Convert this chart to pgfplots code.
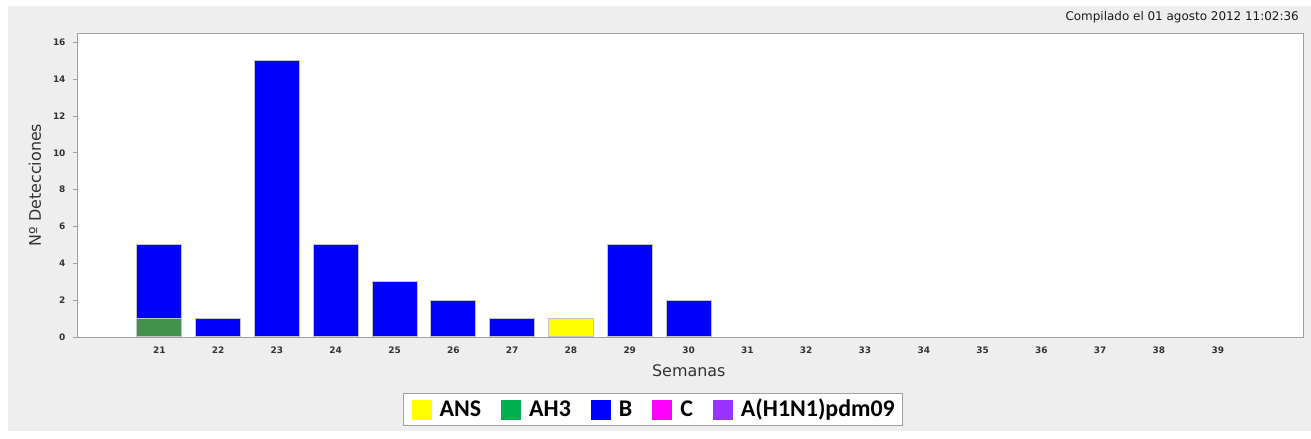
\documentclass[border=0pt]{standalone}
\usepackage{pgfplots}
\pgfplotsset{compat=1.18}
\usetikzlibrary{backgrounds}
\usepackage{fontspec}
\setmainfont{DejaVu Sans}
\newfontfamily\carlito{Carlito}
\definecolor{bg}{HTML}{EEEEEE}
\definecolor{frame}{HTML}{A0A0A0}
\definecolor{baredge}{HTML}{C4C4C4}
\definecolor{ansy}{HTML}{FFFF00}
\definecolor{ahg}{HTML}{43914A}
\definecolor{ahgl}{HTML}{00B050}
\definecolor{bb}{HTML}{0000FF}
\definecolor{cm}{HTML}{FF00FF}
\definecolor{hp}{HTML}{9933FF}
\definecolor{txt}{HTML}{333333}
\begin{document}
\begin{tikzpicture}
\begin{axis}[
  name=ax,
  scale only axis, width=1226bp, height=304bp,
  xmin=19.6, xmax=40.45, ymin=0, ymax=16.5,
  xtick={21,...,39}, ytick={0,2,...,16},
  ytick pos=left,
  ybar stacked, bar width=0.765,
  axis background/.style={fill=white},
  axis line style={draw=frame, line width=0.9bp},
  tick align=outside, major tick length=4bp,
  xtick style={draw=none}, ytick style={draw=frame, line width=0.8bp},
  /pgf/number format/assume math mode=true,
  ticklabel style={font=\bfseries\fontsize{9}{9}\selectfont, text=txt},
  xticklabel style={yshift=-2bp},
  yticklabel style={xshift=-4bp},
  xlabel={Semanas}, ylabel={Nº Detecciones},
  label style={font=\fontsize{16}{16}\selectfont, text=txt},
  xlabel style={at={(axis description cs:0.499,-0.112)}, anchor=center},
  ylabel style={at={(axis description cs:-0.0343,0.5)}, anchor=center},
  legend columns=5,
  legend style={at={(axis description cs:0.470,-0.2385)}, anchor=center,
    draw=frame, fill=white, line width=0.8bp,
    inner xsep=8bp, inner ysep=6bp,
    font=\carlito\bfseries\fontsize{24}{24}\selectfont,
    nodes={inner sep=0pt, text height=16bp, text depth=3bp},
    /tikz/every odd column/.append style={column sep=8bp},
    /tikz/every even column/.append style={column sep=20bp}},
  legend cell align=left,
  legend image code/.code={\fill[#1] (0bp,-10bp) rectangle (20bp,10bp);},
  every axis plot/.append style={draw=baredge, line width=1bp},
]
\addplot[fill=ansy, forget plot] coordinates {(21,0) (22,0) (23,0) (24,0) (25,0) (26,0) (27,0) (28,1) (29,0) (30,0)};
\addplot[fill=ahg, forget plot] coordinates {(21,1) (22,0) (23,0) (24,0) (25,0) (26,0) (27,0) (28,0) (29,0) (30,0)};
\addplot[fill=bb, forget plot] coordinates {(21,4) (22,1) (23,15) (24,5) (25,3) (26,2) (27,1) (28,0) (29,5) (30,2)};
\addlegendimage{fill=ansy, draw=none}
\addlegendentry{ANS}
\addlegendimage{fill=ahgl, draw=none}
\addlegendentry{AH3}
\addlegendimage{fill=bb, draw=none}
\addlegendentry{B}
\addlegendimage{fill=cm, draw=none}
\addlegendentry{C}
\addlegendimage{fill=hp, draw=none}
\addlegendentry{A(H1N1)pdm09}
\end{axis}
\begin{scope}[on background layer, shift={(ax.south west)}, x=1bp, y=1bp]
  \fill[white] (-77,-102) rectangle (1234,337);
  \fill[bg] (-69,-94) rectangle (1234,331);
\end{scope}
\begin{scope}[shift={(ax.south west)}, x=1bp, y=1bp]
  \node[anchor=base east, inner sep=0pt, font=\fontsize{12}{12}\selectfont, text=black!90] at (1222,316) {Compilado el 01 agosto 2012 11:02:36};
\end{scope}
\pgfresetboundingbox
\path[use as bounding box, shift={(ax.south west)}, x=1bp, y=1bp] (-77,-102) rectangle (1234,337);
\end{tikzpicture}
\end{document}
